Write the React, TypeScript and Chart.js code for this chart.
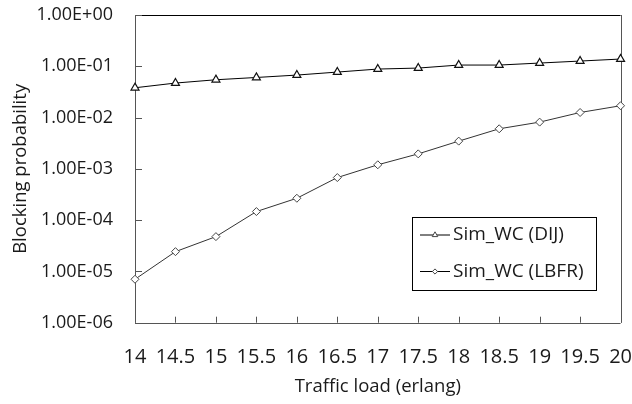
import React, { useEffect, useRef } from 'react';
import { Chart, registerables } from 'chart.js';

Chart.register(...registerables);

const loads = ['14', '14.5', '15', '15.5', '16', '16.5', '17', '17.5', '18', '18.5', '19', '19.5', '20'];
const dijValues = [0.0381, 0.0471, 0.0546, 0.0605, 0.0674, 0.0771, 0.0883, 0.0923, 0.1057, 0.1057, 0.1156, 0.1265, 0.1384];
const lbfrValues = [7.03e-6, 2.43e-5, 4.77e-5, 1.47e-4, 2.67e-4, 6.76e-4, 1.2e-3, 1.96e-3, 3.47e-3, 6.04e-3, 8.15e-3, 1.256e-2, 1.7e-2];
const yTickValues = [1, 1e-1, 1e-2, 1e-3, 1e-4, 1e-5, 1e-6];
const yTickLabels = ['1.00E+00', '1.00E-01', '1.00E-02', '1.00E-03', '1.00E-04', '1.00E-05', '1.00E-06'];
const seriesNames = ['Sim_WC (DIJ)', 'Sim_WC (LBFR)'];
const xTitle = 'Traffic load (erlang)';
const yTitle = 'Blocking probability';

const FONT = "'Open Sans', 'DejaVu Sans', sans-serif";
const TEXT = '#1a1a1a';

const framePlugin = {
  id: 'frame',
  beforeDatasetsDraw(chart: any) {
    const { ctx, chartArea: a, scales } = chart;
    ctx.save();
    ctx.lineWidth = 1;
    ctx.strokeStyle = '#000';
    ctx.beginPath();
    ctx.moveTo(a.left, Math.round(a.top) + 0.5);
    ctx.lineTo(a.right, Math.round(a.top) + 0.5);
    ctx.stroke();
    ctx.strokeStyle = '#555';
    ctx.beginPath();
    ctx.moveTo(Math.round(a.right) + 0.5, a.top);
    ctx.lineTo(Math.round(a.right) + 0.5, a.bottom);
    ctx.moveTo(Math.round(a.left) + 0.5, a.top);
    ctx.lineTo(Math.round(a.left) + 0.5, a.bottom);
    ctx.moveTo(a.left, Math.round(a.bottom) + 0.5);
    ctx.lineTo(a.right, Math.round(a.bottom) + 0.5);
    ctx.stroke();
    // inward tick marks
    ctx.beginPath();
    const ys = scales.y;
    ys.ticks.forEach((t: any) => {
      const py = Math.round(ys.getPixelForValue(t.value)) + 0.5;
      ctx.moveTo(a.left, py);
      ctx.lineTo(a.left + 7, py);
    });
    const xs = scales.x;
    loads.forEach((_, i) => {
      const px = Math.round(xs.getPixelForValue(i)) + 0.5;
      ctx.moveTo(px, a.bottom);
      ctx.lineTo(px, a.bottom - 6);
    });
    ctx.stroke();
    ctx.restore();
  },
};

const legendPlugin = {
  id: 'boxLegend',
  afterDraw(chart: any) {
    const { ctx, chartArea: a } = chart;
    const left = Math.round(a.left + 277);
    const top = Math.round(a.top + 202);
    const w = 184;
    const h = 73;
    ctx.save();
    ctx.fillStyle = '#fff';
    ctx.fillRect(left, top, w, h);
    ctx.strokeStyle = '#000';
    ctx.lineWidth = 1;
    ctx.strokeRect(left + 0.5, top + 0.5, w, h);
    const rows = [top + 18, top + 54.5];
    chart.data.datasets.forEach((ds: any, i: number) => {
      const y = rows[i];
      ctx.strokeStyle = '#000';
      ctx.lineWidth = 1;
      ctx.beginPath();
      ctx.moveTo(left + 8, y);
      ctx.lineTo(left + 38, y);
      ctx.stroke();
      const cx = left + 23;
      ctx.beginPath();
      if (i === 0) {
        const r = 3.2;
        ctx.moveTo(cx, y - r);
        ctx.lineTo(cx + r * 0.866, y + r / 2);
        ctx.lineTo(cx - r * 0.866, y + r / 2);
        ctx.closePath();
      } else {
        const r = 2.6;
        ctx.moveTo(cx, y - r);
        ctx.lineTo(cx + r, y);
        ctx.lineTo(cx, y + r);
        ctx.lineTo(cx - r, y);
        ctx.closePath();
      }
      ctx.fillStyle = '#fff';
      ctx.fill();
      ctx.strokeStyle = '#444';
      ctx.stroke();
      ctx.fillStyle = TEXT;
      ctx.font = `19px ${FONT}`;
      ctx.textAlign = 'left';
      ctx.textBaseline = 'middle';
      ctx.fillText(ds.label, left + 41, y);
    });
    ctx.restore();
  },
};

export default function App() {
  const ref = useRef<HTMLCanvasElement | null>(null);

  useEffect(() => {
    if (!ref.current) return;
    const chart = new Chart(ref.current, {
      type: 'line',
      data: {
        labels: loads,
        datasets: [
          {
            label: seriesNames[0],
            data: dijValues,
            borderColor: '#000',
            borderWidth: 1,
            pointStyle: 'triangle',
            pointRadius: 4.6,
            pointBackgroundColor: '#fff',
            pointBorderColor: '#111',
            pointBorderWidth: 1.2,
            tension: 0,
          },
          {
            label: seriesNames[1],
            data: lbfrValues,
            borderColor: '#333',
            borderWidth: 1,
            pointStyle: 'rectRot',
            pointRadius: 4,
            pointBackgroundColor: '#fff',
            pointBorderColor: '#444',
            pointBorderWidth: 1,
            tension: 0,
          },
        ],
      },
      options: {
        animation: false,
        responsive: false,
        maintainAspectRatio: false,
        layout: { padding: { top: 15, right: 11, left: 0, bottom: 0 } },
        plugins: {
          legend: { display: false },
          tooltip: { enabled: false },
        },
        scales: {
          x: {
            type: 'category',
            offset: false,
            grid: {
              display: true,
              drawOnChartArea: false,
              drawTicks: true,
              tickLength: 23,
              tickColor: 'rgba(0,0,0,0)',
              offset: false,
            },
            border: { display: false },
            ticks: {
              color: TEXT,
              font: { family: FONT, size: 20 },
              padding: 0,
              maxRotation: 0,
              autoSkip: false,
            },
            title: {
              display: true,
              text: xTitle,
              color: TEXT,
              font: { family: FONT, size: 18.5 },
              padding: { top: 0, bottom: 6 },
            },
            afterFit(scale: any) {
              scale.height = 81.3;
            },
          },
          y: {
            type: 'logarithmic',
            min: 1e-6,
            max: 1,
            grid: {
              display: true,
              drawOnChartArea: false,
              drawTicks: true,
              tickLength: 22,
              tickColor: 'rgba(0,0,0,0)',
            },
            border: { display: false },
            afterBuildTicks(scale: any) {
              scale.ticks = yTickValues.map((v) => ({ value: v }));
            },
            ticks: {
              color: TEXT,
              font: { family: FONT, size: 18 },
              padding: 0,
              callback: (v: any) => {
                const idx = yTickValues.findIndex((t) => Math.abs(Math.log10(t) - Math.log10(v)) < 1e-6);
                return idx >= 0 ? yTickLabels[idx] : '';
              },
            },
            title: {
              display: true,
              text: yTitle,
              color: TEXT,
              font: { family: FONT, size: 18.5 },
              padding: { top: 10, bottom: 0 },
            },
            afterFit(scale: any) {
              scale.width = 135;
            },
          },
        },
      },
      plugins: [framePlugin, legendPlugin],
    });
    return () => chart.destroy();
  }, []);

  return (
    <div style={{ position: 'fixed', left: 0, top: 0, width: 632, height: 404, background: '#fff' }}>
      <canvas ref={ref} width={632} height={404} style={{ width: 632, height: 404, display: 'block' }} />
    </div>
  );
}
